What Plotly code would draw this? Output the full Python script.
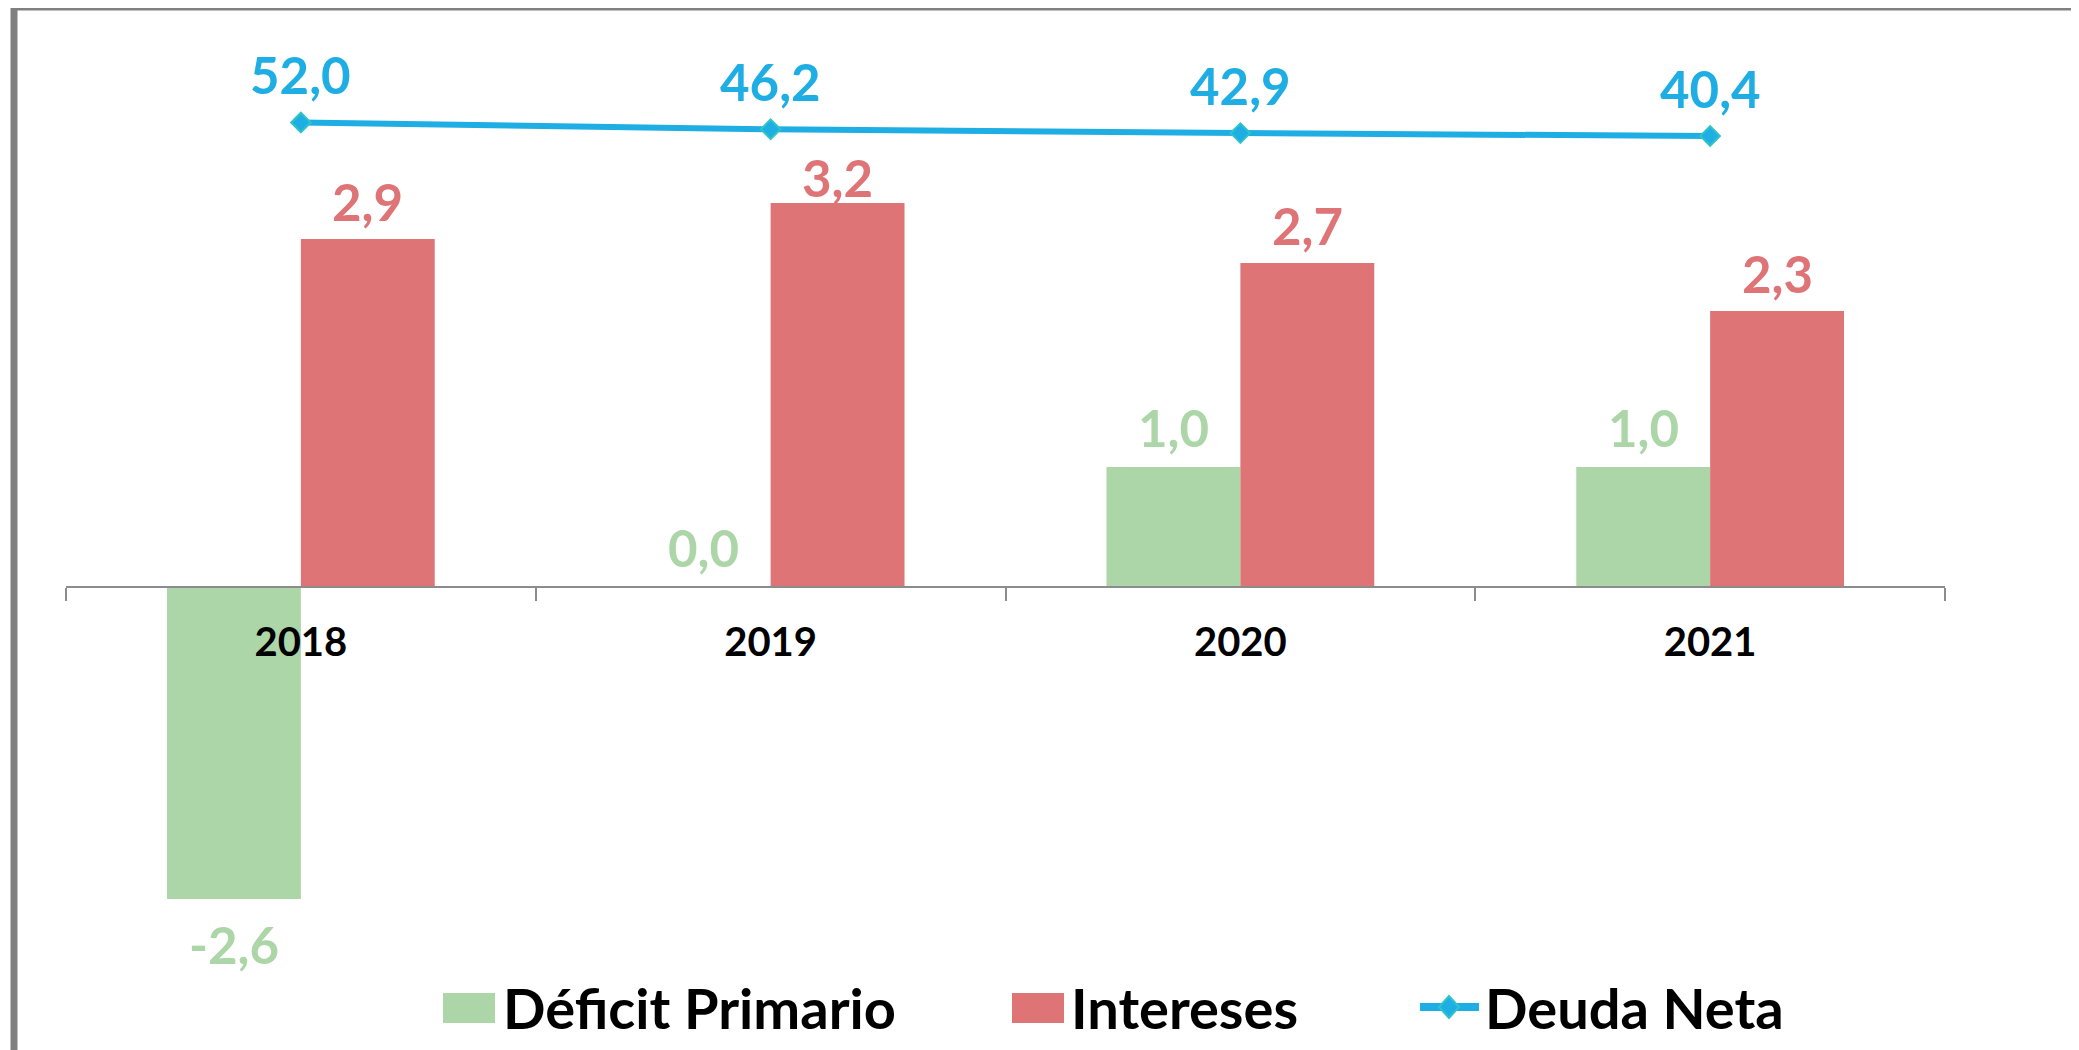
import plotly.graph_objects as go

# ---------------- data ----------------
years = ["2018", "2019", "2020", "2021"]
deficit_primario = [-2.6, 0.0, 1.0, 1.0]
intereses = [2.9, 3.2, 2.7, 2.3]
deuda_neta = [52.0, 46.2, 42.9, 40.4]
series_names = ["Déficit Primario", "Intereses", "Deuda Neta"]

# ---------------- style ----------------
GREEN = "#ACD6A8"
RED = "#DF7477"
BLUE = "#1EAEE4"
TEAL = "#2EC4C8"
GRAY = "#808080"
FONT = "Lato"

OFF = 8  # page body margin
W, H = 2079 - OFF, 1050 - OFF
ML, MR, MT, MB = 66 - OFF, 134, 40 - OFF, 110
PW, PH = W - ML - MR, H - MT - MB
Y1_RANGE = [-2.942, 4.558]
Y2_RANGE = [-650.4, 122.9]
BAR_OFFSET_PX = 67


def fx(px):
    return (px - OFF - ML) / PW


def fy(py):
    return (H + OFF - MB - py) / PH


def fmt(v):
    return f"{v:.1f}".replace(".", ",")


fig = go.Figure()
fig.add_trace(go.Bar(x=years, y=deficit_primario, name=series_names[0],
                     marker=dict(color=GREEN, line=dict(width=0))))
fig.add_trace(go.Bar(x=years, y=intereses, name=series_names[1],
                     marker=dict(color=RED, line=dict(width=0))))
fig.add_trace(go.Scatter(x=years, y=deuda_neta, name=series_names[2], yaxis="y2",
                         mode="lines+markers",
                         line=dict(color=BLUE, width=6),
                         marker=dict(symbol="diamond", size=15, color=BLUE,
                                     line=dict(color=TEAL, width=2))))

annotations = []
label_font = dict(family=FONT, size=51, weight="bold")
for i, v in enumerate(deficit_primario):
    annotations.append(dict(x=i, y=v, xref="x", yref="y", text=fmt(v), showarrow=False,
                            xshift=-BAR_OFFSET_PX, yshift=(39 if v >= 0 else -46),
                            yanchor="middle", font=dict(label_font, color=GREEN)))
for i, v in enumerate(intereses):
    shift = 25 if years[i] == "2019" else 37
    annotations.append(dict(x=i, y=v, xref="x", yref="y", text=fmt(v), showarrow=False,
                            xshift=BAR_OFFSET_PX, yshift=shift,
                            yanchor="middle", font=dict(label_font, color=RED)))
for i, v in enumerate(deuda_neta):
    annotations.append(dict(x=i, y=v, xref="x", yref="y2", text=fmt(v), showarrow=False,
                            yshift=48, yanchor="middle", font=dict(label_font, color=BLUE)))

# manual legend
leg_font = dict(family=FONT, size=56, weight="bold", color="#000000")
leg_y = 1007
shapes = [
    dict(type="rect", xref="paper", yref="paper", x0=fx(443), x1=fx(495),
         y0=fy(993), y1=fy(1023), fillcolor=GREEN, line=dict(width=0)),
    dict(type="rect", xref="paper", yref="paper", x0=fx(1012), x1=fx(1064),
         y0=fy(993), y1=fy(1023), fillcolor=RED, line=dict(width=0)),
    dict(type="line", xref="paper", yref="paper", x0=fx(1420), x1=fx(1479),
         y0=fy(1007), y1=fy(1007), line=dict(color=BLUE, width=8)),
    dict(type="path", xref="paper", yref="paper",
         path=(f"M{fx(1449)},{fy(996)} L{fx(1459)},{fy(1007)} "
               f"L{fx(1449)},{fy(1018)} L{fx(1439)},{fy(1007)} Z"),
         fillcolor=BLUE, line=dict(color=TEAL, width=2)),
    # frame
    dict(type="rect", xref="paper", yref="paper", x0=fx(14), x1=fx(2100),
         y0=fy(7), y1=fy(1080), fillcolor="rgba(0,0,0,0)",
         line=dict(color=GRAY, width=7), layer="below"),
]
for txt, x0 in zip(series_names, [501, 1069, 1483]):
    annotations.append(dict(x=fx(x0), y=fy(leg_y), xref="paper", yref="paper", text=txt,
                            showarrow=False, xanchor="left", yanchor="middle",
                            font=leg_font))

zero_pos = (0 - Y1_RANGE[0]) / (Y1_RANGE[1] - Y1_RANGE[0])

fig.update_layout(
    width=W, height=H,
    margin=dict(l=ML, r=MR, t=MT, b=MB, pad=0),
    paper_bgcolor="white", plot_bgcolor="white",
    barmode="group", bargap=0.43, bargroupgap=0,
    showlegend=False,
    xaxis=dict(type="category", anchor="free", position=zero_pos,
               showline=True, linecolor="#8c8c8c", linewidth=2,
               ticks="outside", tickson="boundaries", ticklen=13, tickwidth=2,
               tickcolor="#8c8c8c", showgrid=False, zeroline=False,
               tickfont=dict(family=FONT, size=40, weight="bold", color="#000000"),
               ticklabelstandoff=20, range=[-0.5, 3.5]),
    yaxis=dict(range=Y1_RANGE, visible=False, showgrid=False, zeroline=False),
    yaxis2=dict(range=Y2_RANGE, overlaying="y", side="right", visible=False,
                showgrid=False, zeroline=False),
    annotations=annotations,
    shapes=shapes,
)

fig.write_html("out.html")
